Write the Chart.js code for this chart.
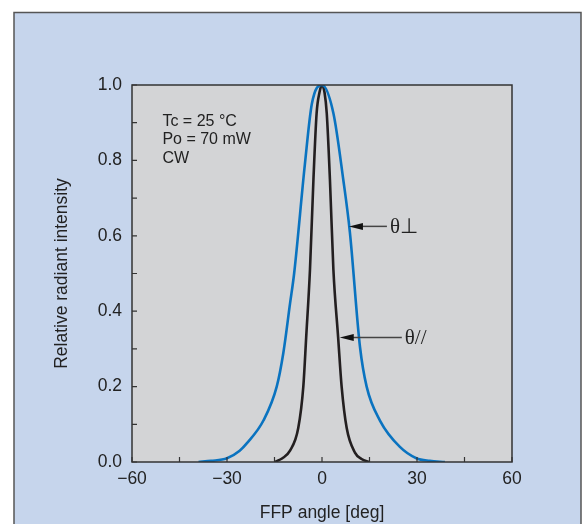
<!DOCTYPE html>
<html>
<head>
<meta charset="utf-8">
<script src="https://cdn.jsdelivr.net/npm/chart.js@4.4.1/dist/chart.umd.min.js"></script>
<style>
  html, body { margin: 0; padding: 0; background: #ffffff; }
  #wrap { width: 587px; height: 524px; }
</style>
</head>
<body>
<div id="wrap"><canvas id="chartjs-0" width="587" height="524"></canvas></div>
<script>
// values
var perpAngle = [-39, -35, -30, -26, -23.7, -18.5, -14.3, -12.2, -10.1, -8.8, -5.4, -3.2, 0, 3.6, 6.7, 8.8, 12, 14.1, 18.3, 24.6, 29.8, 34, 38.8];
var perpValue = [0, 0.003, 0.01, 0.03, 0.05, 0.11, 0.2, 0.29, 0.42, 0.5, 0.79, 0.95, 1.0, 0.925, 0.75, 0.61, 0.305, 0.2, 0.11, 0.04, 0.01, 0.003, 0];
var parAngle = [-15, -12.5, -10.1, -7.5, -5.9, -5.0, -3.8, -2.7, -1.7, -0.8, 0, 0.8, 1.5, 2.5, 3.6, 5.1, 6.2, 7.8, 10.4, 12.5, 14.9];
var parValue = [0, 0.01, 0.03, 0.09, 0.2, 0.33, 0.51, 0.75, 0.925, 0.98, 1.0, 0.98, 0.925, 0.75, 0.51, 0.33, 0.2, 0.09, 0.025, 0.008, 0];

var xTickLabels = [-60, -30, 0, 30, 60];
var yTickLabels = [0.0, 0.2, 0.4, 0.6, 0.8, 1.0];
var notes = ["Tc = 25 \u00B0C", "Po = 70 mW", "CW"];
var noteY = [0.902, 0.854, 0.804];
var noteX = -50.4;
// arrows: [tip angle, tail angle, value, label]
var arrows = [[8.5, 20.5, 0.625, "\u03B8\u22A5"], [5.6, 25.2, 0.33, "\u03B8//"]];

function toPoints(xs, ys) {
    var pts = [];
    for (var i = 0; i < xs.length; i++) { pts.push({x: xs[i], y: ys[i]}); }
    return pts;
}

var sans = "'Liberation Sans', Arial, sans-serif";

var decor = {
    id: "decor",
    beforeDraw: function (chart) {
        var ctx = chart.ctx, a = chart.chartArea;
        ctx.save();
        ctx.fillStyle = "#ffffff";
        ctx.fillRect(0, 0, chart.width, chart.height);
        ctx.fillStyle = "#c6d5ec";
        ctx.fillRect(14, 12.5, 567, 600);
        ctx.strokeStyle = "#555555";
        ctx.lineWidth = 1.5;
        ctx.strokeRect(14, 12.5, 567, 600);
        ctx.fillStyle = "#d3d4d6";
        ctx.fillRect(a.left, a.top, a.right - a.left, a.bottom - a.top);
        ctx.restore();
    },
    afterDatasetsDraw: function (chart) {
        var ctx = chart.ctx, a = chart.chartArea;
        var xs = chart.scales.x, ys = chart.scales.y;
        ctx.save();
        // inner tick marks
        ctx.strokeStyle = "#333333";
        ctx.lineWidth = 1.2;
        ctx.beginPath();
        ys.ticks.forEach(function (t) {
            var py = ys.getPixelForValue(t.value);
            ctx.moveTo(a.left, py); ctx.lineTo(a.left + 5, py);
        });
        xs.ticks.forEach(function (t) {
            var px = xs.getPixelForValue(t.value);
            ctx.moveTo(px, a.bottom); ctx.lineTo(px, a.bottom - 5);
        });
        ctx.stroke();
        // frame
        ctx.strokeStyle = "#333333";
        ctx.lineWidth = 1.5;
        ctx.strokeRect(a.left, a.top, a.right - a.left, a.bottom - a.top);
        // condition notes
        ctx.fillStyle = "#222222";
        ctx.font = "16px " + sans;
        ctx.textBaseline = "middle";
        ctx.textAlign = "left";
        for (var i = 0; i < notes.length; i++) {
            ctx.fillText(notes[i], xs.getPixelForValue(noteX), ys.getPixelForValue(noteY[i]));
        }
        // arrows with labels
        arrows.forEach(function (ar) {
            var tip = xs.getPixelForValue(ar[0]);
            var tail = xs.getPixelForValue(ar[1]);
            var py = ys.getPixelForValue(ar[2]);
            ctx.strokeStyle = "#444444";
            ctx.lineWidth = 1.5;
            ctx.beginPath();
            ctx.moveTo(tip + 10, py); ctx.lineTo(tail, py);
            ctx.stroke();
            ctx.fillStyle = "#111111";
            ctx.beginPath();
            ctx.moveTo(tip, py);
            ctx.lineTo(tip + 14, py - 3.5);
            ctx.lineTo(tip + 14, py + 3.5);
            ctx.closePath();
            ctx.fill();
            ctx.fillStyle = "#222222";
            ctx.font = "21px 'Liberation Serif', 'Times New Roman', serif";
            ctx.fillText(ar[3], tail + 3, py + 1);
        });
        ctx.restore();
    }
};

var ctx0 = document.getElementById("chartjs-0");
var myChart = new Chart(ctx0, {
    type: "scatter",
    data: {
        datasets: [
            {
                label: "\u03B8\u22A5",
                data: toPoints(perpAngle, perpValue),
                showLine: true,
                borderColor: "#0a73c0",
                borderWidth: 2.6,
                pointRadius: 0,
                cubicInterpolationMode: "monotone"
            },
            {
                label: "\u03B8//",
                data: toPoints(parAngle, parValue),
                showLine: true,
                borderColor: "#231f20",
                borderWidth: 2.6,
                pointRadius: 0,
                cubicInterpolationMode: "monotone"
            }
        ]
    },
    options: {
        responsive: false,
        animation: false,
        layout: { padding: { left: 0, top: 85, right: 75, bottom: 0 } },
        plugins: { legend: { display: false }, tooltip: { enabled: false } },
        scales: {
            x: {
                type: "linear",
                min: -60, max: 60,
                afterFit: function (s) { s.height = 62; },
                grid: { display: false, drawTicks: false },
                border: { display: false },
                ticks: {
                    stepSize: 15,
                    padding: 7,
                    color: "#222222",
                    font: { family: sans, size: 17.5 },
                    callback: function (v) {
                        if (xTickLabels.indexOf(v) < 0) { return ""; }
                        return v < 0 ? "\u2212" + Math.abs(v) : String(v);
                    }
                },
                title: {
                    display: true,
                    text: "FFP angle [deg]",
                    color: "#222222",
                    font: { family: sans, size: 17.5 },
                    padding: { top: 6, bottom: 0 }
                }
            },
            y: {
                type: "linear",
                min: 0, max: 1,
                afterFit: function (s) { s.width = 132; },
                grid: { display: false, drawTicks: false },
                border: { display: false },
                ticks: {
                    stepSize: 0.1,
                    padding: 10,
                    color: "#222222",
                    font: { family: sans, size: 17.5 },
                    callback: function (v) {
                        var r = Math.round(v * 10) / 10;
                        for (var i = 0; i < yTickLabels.length; i++) {
                            if (Math.abs(yTickLabels[i] - r) < 1e-6) { return r.toFixed(1); }
                        }
                        return "";
                    }
                },
                title: {
                    display: true,
                    text: "Relative radiant intensity",
                    color: "#222222",
                    font: { family: sans, size: 17.5 },
                    padding: { top: 52, bottom: 0 }
                }
            }
        }
    },
    plugins: [decor]
});
</script>
</body>
</html>
